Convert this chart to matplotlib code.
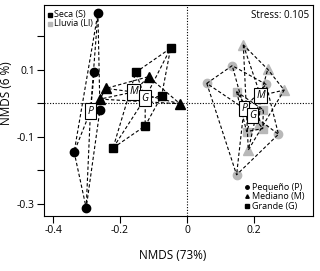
import numpy as np
from matplotlib import pyplot as plt

plt.rcParams['font.family'] = ['Open Sans', 'DejaVu Sans']

# Seca (black) groups
seca_p_x = [-0.266, -0.277, -0.260, -0.337, -0.301]
seca_p_y = [0.270, 0.093, -0.019, -0.145, -0.312]
seca_m_x = [-0.242, -0.260, -0.115, -0.021]
seca_m_y = [0.045, 0.013, 0.080, -0.001]
seca_g_x = [-0.049, -0.153, -0.076, -0.125, -0.221]
seca_g_y = [0.165, 0.093, 0.022, -0.067, -0.133]

# Lluvia (gray) groups
lluvia_p_x = [0.135, 0.059, 0.236, 0.273, 0.148]
lluvia_p_y = [0.113, 0.060, 0.057, -0.092, -0.213]
lluvia_m_x = [0.168, 0.241, 0.290, 0.183, 0.215]
lluvia_m_y = [0.175, 0.102, 0.040, -0.139, -0.060]
lluvia_g_x = [0.148, 0.228, 0.226, 0.178]
lluvia_g_y = [0.035, -0.019, -0.075, -0.084]

x_ticks = [-0.4, -0.2, 0, 0.2]
x_labels = ["-0.4", "-0.2", "0", "0.2"]
y_ticks = [-0.3, -0.2, -0.1, 0, 0.1, 0.2]
y_labels = ["-0.3", "", "-0.1", "", "0.1", ""]

GRAY = "#b8b8b8"


def hull(xs, ys):
    pts = sorted(zip(xs, ys))

    def cross(o, a, b):
        return (a[0] - o[0]) * (b[1] - o[1]) - (a[1] - o[1]) * (b[0] - o[0])

    lower, upper = [], []
    for p in pts:
        while len(lower) >= 2 and cross(lower[-2], lower[-1], p) <= 0:
            lower.pop()
        lower.append(p)
    for p in reversed(pts):
        while len(upper) >= 2 and cross(upper[-2], upper[-1], p) <= 0:
            upper.pop()
        upper.append(p)
    ring = lower[:-1] + upper[:-1]
    ring.append(ring[0])
    return [p[0] for p in ring], [p[1] for p in ring]


def draw_group(ax, xs, ys, marker, color, size, letter):
    cx, cy = np.mean(xs), np.mean(ys)
    dash = dict(color="black", lw=0.8, ls=(0, (3, 2)), zorder=2)
    hx, hy = hull(xs, ys)
    ax.plot(hx, hy, **dash)
    for x, y in zip(xs, ys):
        ax.plot([cx, x], [cy, y], **dash)
    ax.plot(xs, ys, ls="none", marker=marker, ms=size, color=color,
            mec=color, zorder=1 if color == GRAY else 3)
    ax.text(cx, cy, letter, ha="center", va="center", fontsize=7.5,
            style="italic", zorder=5,
            bbox=dict(boxstyle="square,pad=0.22", fc="white", ec="black", lw=0.8))


fig = plt.figure(figsize=(3.2, 2.71), dpi=100)
ax = fig.add_axes([0.1375, 0.203, 0.978 - 0.1375, 0.9815 - 0.203])

ax.axhline(0, color="black", lw=0.8, ls=(0, (1, 1.5)), zorder=0)
ax.axvline(0, color="black", lw=0.8, ls=(0, (1, 1.5)), zorder=0)

draw_group(ax, lluvia_p_x, lluvia_p_y, "o", GRAY, 6, "P")
draw_group(ax, lluvia_m_x, lluvia_m_y, "^", GRAY, 7, "M")
draw_group(ax, lluvia_g_x, lluvia_g_y, "s", GRAY, 5.5, "G")
draw_group(ax, seca_p_x, seca_p_y, "o", "black", 6, "P")
draw_group(ax, seca_m_x, seca_m_y, "^", "black", 7, "M")
draw_group(ax, seca_g_x, seca_g_y, "s", "black", 5.5, "G")

ax.set_xlim(-0.427, 0.376)
ax.set_ylim(-0.336, 0.294)
ax.set_xticks(x_ticks)
ax.set_xticklabels(x_labels)
ax.set_yticks(y_ticks)
ax.set_yticklabels(y_labels)
ax.tick_params(direction="out", length=5, width=0.8, labelsize=7.5, pad=1.5)
for s in ax.spines.values():
    s.set_linewidth(0.8)

ax.set_xlabel("NMDS (73%)", fontsize=8.5)
ax.xaxis.set_label_coords(0.48, -0.155)
ax.set_ylabel("NMDS (6 %)", fontsize=8.5)
ax.yaxis.set_label_coords(-0.115, 0.58)

# top-left legend
ax.plot([0.023], [0.955], "s", ms=2.5, color="black", transform=ax.transAxes)
ax.text(0.037, 0.955, "Seca (S)", fontsize=6.5, va="center", transform=ax.transAxes)
ax.plot([0.023], [0.912], "s", ms=2.5, color=GRAY, transform=ax.transAxes)
ax.text(0.037, 0.912, "Lluvia (Ll)", fontsize=6.5, va="center", transform=ax.transAxes)

ax.text(0.985, 0.95, "Stress: 0.105", fontsize=7, ha="right", va="center",
        transform=ax.transAxes)

# bottom-right legend
for yy, mk, lab in [(0.137, "o", "Pequeño (P)"), (0.093, "^", "Mediano (M)"),
                    (0.047, "s", "Grande (G)")]:
    ax.plot([0.753], [yy], mk, ms=2.5, color="black", transform=ax.transAxes)
    ax.text(0.772, yy, lab, fontsize=6.5, va="center", transform=ax.transAxes)

fig.savefig("out.png", dpi=100)
